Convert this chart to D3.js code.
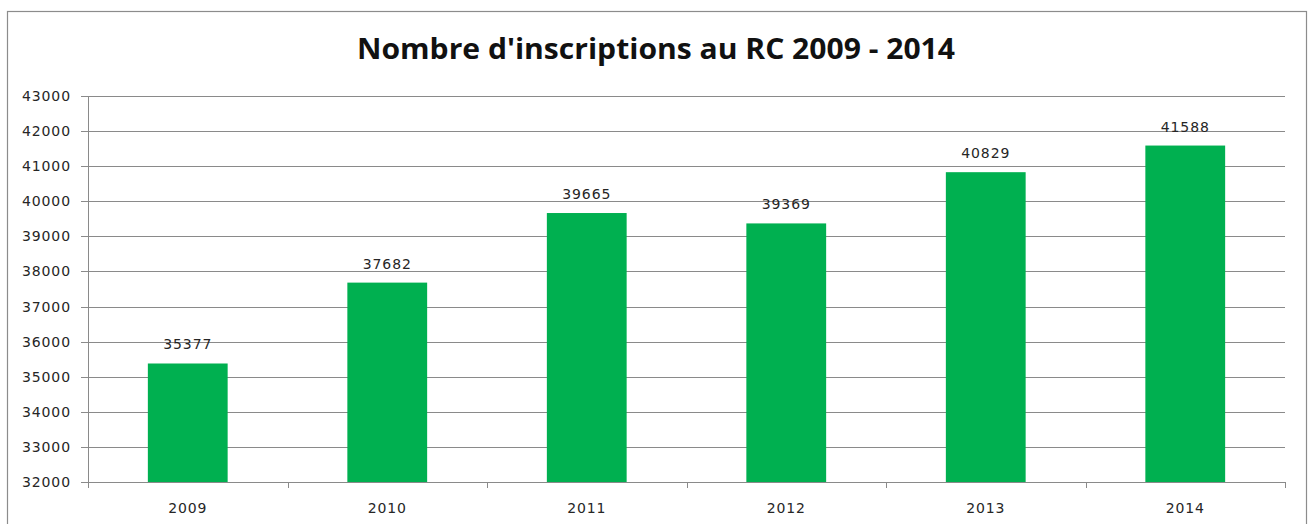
<!DOCTYPE html>
<html><head><meta charset="utf-8">
<script src="https://cdn.jsdelivr.net/npm/d3@7"></script>
<style>html,body{margin:0;padding:0;background:#fff;}svg{display:block;}</style>
</head><body>
<svg id="c" width="1308" height="524"></svg>
<script>
const title = "Nombre d'inscriptions au RC 2009 - 2014";
const categories = ["2009","2010","2011","2012","2013","2014"];
const values = [35377, 37682, 39665, 39369, 40829, 41588];
const yTicks = [32000,33000,34000,35000,36000,37000,38000,39000,40000,41000,42000,43000];

const svg = d3.select("#c");
const L = 88, R = 1285, T = 96, B = 482;
const font = "'DejaVu Sans', sans-serif";
const fs = 14, ls = 0.9;

svg.append("rect").attr("x",7.5).attr("y",11.5).attr("width",1299).attr("height",530)
  .attr("fill","#fff").attr("stroke","#8c8c8c").attr("stroke-width",1.2);

const x = d3.scaleBand().domain(categories).range([L,R]).padding(0);
const y = d3.scaleLinear().domain([32000,43000]).range([B,T]);

// gridlines
svg.append("g").selectAll("line").data(yTicks).join("line")
  .attr("x1",L-7).attr("x2",R).attr("y1",d=>Math.round(y(d))+0.5).attr("y2",d=>Math.round(y(d))+0.5)
  .attr("stroke","#8a8a8a").attr("stroke-width",1);

// y labels
svg.append("g").selectAll("text").data(yTicks).join("text")
  .attr("x",71).attr("y",d=>y(d)).attr("dy","0.36em").attr("text-anchor","end")
  .attr("font-family",font).attr("font-size",fs).attr("letter-spacing",ls).attr("fill","#262626")
  .text(d=>d);

// bars
const bw = x.bandwidth()*0.4;
svg.append("g").selectAll("rect").data(values).join("rect")
  .attr("x",(d,i)=>x(categories[i])+x.bandwidth()/2-bw/2)
  .attr("width",bw)
  .attr("y",d=>y(d)).attr("height",d=>B-y(d))
  .attr("fill","#00b050");

// left axis
svg.append("line").attr("x1",L+0.5).attr("x2",L+0.5).attr("y1",T).attr("y2",B)
  .attr("stroke","#8a8a8a");
// x axis line
svg.append("line").attr("x1",L).attr("x2",R).attr("y1",B+0.5).attr("y2",B+0.5).attr("stroke","#8a8a8a");
// x ticks at boundaries
const bounds = categories.map(c=>x(c)).concat([R]);
svg.append("g").selectAll("line").data(bounds).join("line")
  .attr("x1",d=>Math.round(d)+0.5).attr("x2",d=>Math.round(d)+0.5).attr("y1",B).attr("y2",B+6)
  .attr("stroke","#8a8a8a");

// x labels
svg.append("g").selectAll("text").data(categories).join("text")
  .attr("x",d=>x(d)+x.bandwidth()/2).attr("y",513).attr("text-anchor","middle")
  .attr("font-family",font).attr("font-size",fs).attr("letter-spacing",ls).attr("fill","#262626")
  .text(d=>d);

// value labels
svg.append("g").selectAll("text").data(values).join("text")
  .attr("x",(d,i)=>x(categories[i])+x.bandwidth()/2).attr("y",d=>y(d)-14).attr("text-anchor","middle")
  .attr("font-family",font).attr("font-size",fs).attr("letter-spacing",ls).attr("fill","#262626")
  .text(d=>d);

// title
svg.append("text").attr("x",656).attr("y",59).attr("text-anchor","middle")
  .attr("font-family","'Open Sans', sans-serif").attr("font-weight","bold").attr("font-size",28)
  .attr("textLength",598).attr("lengthAdjust","spacingAndGlyphs").attr("fill","#111")
  .text(title);
</script>
</body></html>
